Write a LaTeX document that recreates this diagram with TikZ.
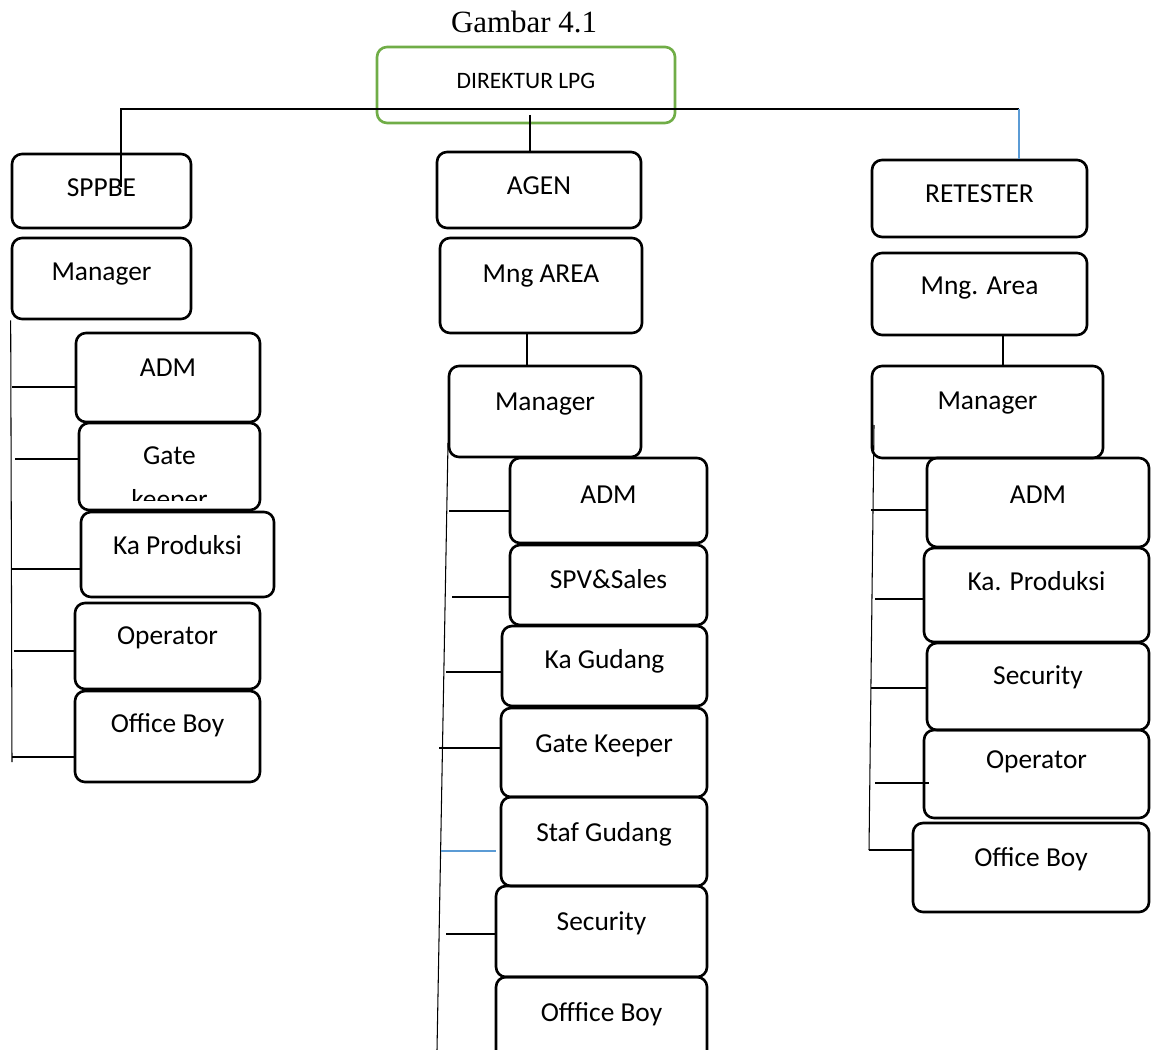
\documentclass[tikz,border=0pt]{standalone}
\usepackage{fontspec}
\setmainfont{Carlito}
\newfontfamily\judulfont{Liberation Serif}
\usepackage{xcolor}
\usepackage{tikz}
\usetikzlibrary{positioning,fit,calc}

\definecolor{hijau}{RGB}{112,173,71}
\definecolor{biru}{RGB}{91,155,213}

\tikzset{
  kotak/.style={draw, rounded corners=0.2cm, line width=1.5pt, inner sep=0pt},
  kotakdir/.style={kotak, draw=hijau},
  teks/.style={anchor=base, inner sep=0pt, yshift=-#1*0.02cm-0.06cm, font=\fontsize{15.6}{19}\selectfont},
  teks/.default=41,
  garis/.style={line width=0.6pt},
  garisbiru/.style={line width=0.6pt, draw=biru}
}

\begin{document}
\begin{tikzpicture}[x=0.02cm, y=-0.02cm]
  \useasboundingbox (0,0) rectangle (1155,1050);
  \clip (0,0) rectangle (1155,1050);

  \node[anchor=base, inner sep=0pt, font=\judulfont\fontsize{17.6}{21}\selectfont] (judul) at (524,33) {Gambar 4.1};

  % direktur
  \node[kotakdir, fit={(377,47) (675,123)},
        label={[teks=40, font=\fontsize{13.4}{16}\selectfont]north:DIREKTUR LPG}] (dir) {};

  % kolom SPPBE
  \node[kotak, fit={(12,154) (191,228)}, label={[teks]north:SPPBE}] (sppbe) {};
  \node[kotak, fit={(12,238) (191,319)}, label={[teks]north:Manager}] (sp-mgr) {};
  \node[kotak, fit={(76,333) (260,422)}, label={[teks=42]north:ADM}] (sp-adm) {};
  \node[kotak, fit={(79,423) (260,510)}, label={[teks=40]north:Gate}] (sp-gk) {};
  \begin{scope}
    \clip (79,423) rectangle (260,500);
    \node[anchor=base, inner sep=0pt, font=\fontsize{15.6}{19}\selectfont] (sp-gk2) at (169.5,508) {keeper};
  \end{scope}
  \node[kotak, fit={(81,512) (274,597)}, label={[teks]north:Ka Produksi}] (sp-kp) {};
  \node[kotak, fit={(75,603) (260,689)}, label={[teks=40]north:Operator}] (sp-opr) {};
  \node[kotak, fit={(75,691) (260,782)}, label={[teks=40]north:Office Boy}] (sp-ob) {};

  % kolom AGEN
  \node[kotak, fit={(437,152) (641,228)}, label={[teks]north:AGEN}] (agen) {};
  \node[kotak, fit={(440,238) (642,333)}, label={[teks=43]north:Mng AREA}] (ag-area) {};
  \node[kotak, fit={(449,366) (641,457)}, label={[teks=43]north:Manager}] (ag-mgr) {};
  \node[kotak, fit={(510,458) (707,543)}, label={[teks=44]north:ADM}] (ag-adm) {};
  \node[kotak, fit={(510,545) (707,625)}, label={[teks=42]north:SPV\&Sales}] (ag-spv) {};
  \node[kotak, fit={(502,626) (707,706)}, label={[teks]north:Ka Gudang}] (ag-kg) {};
  \node[kotak, fit={(501,708) (707,797)}, label={[teks=43]north:Gate Keeper}] (ag-gk) {};
  \node[kotak, fit={(501,797) (707,886)}, label={[teks=43]north:Staf Gudang}] (ag-sg) {};
  \node[kotak, fit={(496,886) (707,977)}, label={[teks=43]north:Security}] (ag-sec) {};
  \node[kotak, fit={(496,977) (707,1075)}, label={[teks=43]north:Offfice Boy}] (ag-ob) {};

  % kolom RETESTER
  \node[kotak, fit={(872,160) (1087,237)}, label={[teks]north:RETESTER}] (retester) {};
  \node[kotak, fit={(872,253) (1087,335)}, label={[teks=40]north:Mng. Area}] (rt-area) {};
  \node[kotak, fit={(872,366) (1103,458)}, label={[teks=42]north:Manager}] (rt-mgr) {};
  \node[kotak, fit={(927,458) (1149,547)}, label={[teks=44]north:ADM}] (rt-adm) {};
  \node[kotak, fit={(924,548) (1149,642)}, label={[teks]north:Ka. Produksi}] (rt-kp) {};
  \node[kotak, fit={(927,643) (1149,730)}, label={[teks=40]north:Security}] (rt-sec) {};
  \node[kotak, fit={(924,730) (1149,818)}, label={[teks=37]north:Operator}] (rt-opr) {};
  \node[kotak, fit={(913,823) (1149,912)}, label={[teks=42]north:Office Boy}] (rt-ob) {};

  % garis atas
  \coordinate (spTitik) at (121,187);
  \coordinate (busL) at (121,109);
  \coordinate (busR) at (1019,109);
  \coordinate (dirTitik) at (530,115);
  \draw[garis] (spTitik) -- (busL) -- (busR);
  \draw[garisbiru] (busR) -- (busR |- retester.north);
  \draw[garis] (dirTitik) -- (dirTitik |- agen.north);

  % penghubung manager
  \draw[garis] (ag-area.south -| 527,0) -- (ag-mgr.north -| 527,0);
  \draw[garis] (rt-area.south -| 1003,0) -- (rt-mgr.north -| 1003,0);

  % cabang SPPBE
  \coordinate (spBawah) at (12,762);
  \draw[garis] (sp-mgr.south west) -- (spBawah);
  \foreach \n/\x/\y in {sp-adm/12/387, sp-gk/15/459, sp-kp/12/569, sp-opr/14/651, sp-ob/12/757}
    \draw[garis] (\x,\y) -- (\n.west |- \x,\y);

  % cabang AGEN
  \coordinate (agAtas) at (448,443);
  \coordinate (agBawah) at (437,1050);
  \draw[garis] (agAtas) -- (agBawah);
  \foreach \n/\x/\y in {ag-adm/449/511, ag-spv/452/597, ag-kg/446/672, ag-gk/439/748, ag-sec/446/934}
    \draw[garis] (\x,\y) -- (\n.west |- \x,\y);
  \draw[garisbiru] (441,851) -- ([xshift=-0.08cm]ag-sg.west |- 441,851);

  % cabang RETESTER
  \coordinate (rtAtas) at (874,425);
  \coordinate (rtBawah) at (869,850);
  \draw[garis] (rtAtas) -- (rtBawah);
  \foreach \n/\x/\y in {rt-adm/871/510, rt-kp/875/599, rt-sec/871/688, rt-ob/869/850}
    \draw[garis] (\x,\y) -- (\n.west |- \x,\y);
  \draw[garis] (875,783) -- ([xshift=0.12cm]rt-opr.west |- 875,783);
\end{tikzpicture}
\end{document}
